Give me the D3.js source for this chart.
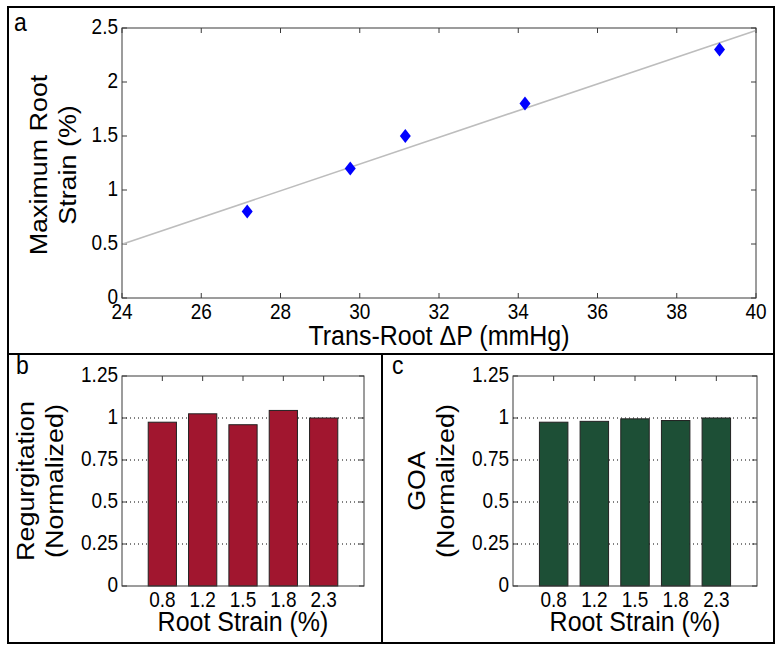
<!DOCTYPE html>
<html>
<head>
    <title>Root strain figure</title>
    <script src="https://d3js.org/d3.v7.min.js"></script>
    <style>
        body { margin: 0; background: #fff; }
        text { font-family: "Liberation Sans", Arial, sans-serif; fill: #000; }
    </style>
</head>
<body>
    <div id="fig"></div>
    <script>
        // panel a data
        var pressure = [27.16, 29.76, 31.15, 34.17, 39.08];
        var maxStrain = [0.8, 1.2, 1.5, 1.8, 2.3];
        var xTicksA = [24, 26, 28, 30, 32, 34, 36, 38, 40];
        var yTicksA = [0, 0.5, 1, 1.5, 2, 2.5];

        // panels b and c data
        var strainLabels = ["0.8", "1.2", "1.5", "1.8", "2.3"];
        var regurgitation = [0.975, 1.025, 0.96, 1.045, 1.0];
        var goa = [0.975, 0.98, 0.995, 0.985, 1.0];
        var yTicksBar = [0, 0.25, 0.5, 0.75, 1, 1.25];

        var width = 782, height = 651;
        var axisColor = "#3a3a3a";
        var tickLen = 5;
        var stretch = 1.12; // the source figure's text is a bit tall

        var svg = d3.select("#fig")
            .append("svg")
            .attr("width", width)
            .attr("height", height);

        // text helper: horizontal text stretched vertically, or rotated label
        function label(parent, x, y, s, size, anchor, rotated, dy) {
            var tf = "translate(" + x + "," + y + ")" +
                (rotated ? " rotate(-90) scale(" + stretch + ",1)" : " scale(1," + stretch + ")");
            return parent.append("text")
                .attr("transform", tf)
                .attr("text-anchor", anchor || "start")
                .attr("dy", dy || null)
                .style("font-size", size + "px")
                .text(s);
        }

        // outer frame and dividers
        svg.append("rect")
            .attr("x", 8).attr("y", 7)
            .attr("width", 766).attr("height", 636)
            .attr("fill", "none").attr("stroke", "#000").attr("stroke-width", 2);
        svg.append("line")
            .attr("x1", 8).attr("x2", 774).attr("y1", 354).attr("y2", 354)
            .attr("stroke", "#000").attr("stroke-width", 2);
        svg.append("line")
            .attr("x1", 382).attr("x2", 382).attr("y1", 354).attr("y2", 643)
            .attr("stroke", "#000").attr("stroke-width", 2);

        label(svg, 14, 31, "a", 23);
        label(svg, 16, 374, "b", 23);
        label(svg, 392, 374, "c", 23);

        function yLabel(lines, x0, yc) {
            lines.forEach(function(s, i) {
                label(svg, x0 + i * 29, yc, s, 24, "middle", true);
            });
        }

        // ---------- panel a ----------
        var ax = { left: 122, right: 756, top: 28, bottom: 298 };
        var xA = d3.scaleLinear().domain([24, 40]).range([ax.left, ax.right]);
        var yA = d3.scaleLinear().domain([0, 2.5]).range([ax.bottom, ax.top]);

        var gA = svg.append("g");

        // ticks (inside, mirrored)
        xTicksA.forEach(function(t) {
            gA.append("line").attr("x1", xA(t)).attr("x2", xA(t))
                .attr("y1", ax.bottom).attr("y2", ax.bottom - tickLen).attr("stroke", axisColor);
            gA.append("line").attr("x1", xA(t)).attr("x2", xA(t))
                .attr("y1", ax.top).attr("y2", ax.top + tickLen).attr("stroke", axisColor);
            label(gA, xA(t), ax.bottom + 21, t, 19, "middle");
        });
        yTicksA.forEach(function(t) {
            gA.append("line").attr("x1", ax.left).attr("x2", ax.left + tickLen)
                .attr("y1", yA(t)).attr("y2", yA(t)).attr("stroke", axisColor);
            gA.append("line").attr("x1", ax.right).attr("x2", ax.right - tickLen)
                .attr("y1", yA(t)).attr("y2", yA(t)).attr("stroke", axisColor);
            label(gA, ax.left - 4, yA(t) - 1, t, 19, "end", false, "0.35em");
        });

        // least squares fit line
        var mx = d3.mean(pressure), my = d3.mean(maxStrain);
        var sxy = d3.sum(pressure, function(x, i) { return (x - mx) * (maxStrain[i] - my); });
        var sxx = d3.sum(pressure, function(x) { return (x - mx) * (x - mx); });
        var slope = sxy / sxx, intercept = my - slope * mx;
        gA.append("line")
            .attr("x1", xA(24)).attr("y1", yA(slope * 24 + intercept))
            .attr("x2", xA(40)).attr("y2", yA(slope * 40 + intercept))
            .attr("stroke", "#bdbdbd").attr("stroke-width", 1.6);

        // diamond markers
        gA.selectAll(".pt")
            .data(pressure)
            .enter()
            .append("path")
            .attr("class", "pt")
            .attr("d", function(d, i) {
                var cx = xA(d), cy = yA(maxStrain[i]);
                return "M" + cx + "," + (cy - 7) + "L" + (cx + 5.5) + "," + cy +
                    "L" + cx + "," + (cy + 7) + "L" + (cx - 5.5) + "," + cy + "Z";
            })
            .attr("fill", "#0000ff");

        gA.append("rect")
            .attr("x", ax.left).attr("y", ax.top)
            .attr("width", ax.right - ax.left).attr("height", ax.bottom - ax.top)
            .attr("fill", "none").attr("stroke", axisColor).attr("stroke-width", 1);

        label(svg, (ax.left + ax.right) / 2, 345, "Trans-Root \u0394P (mmHg)", 25, "middle");
        yLabel(["Maximum Root", "Strain (%)"], 47, 165);

        // ---------- panels b and c ----------
        function barPanel(box, values, color, labelLines, labelX) {
            var x = d3.scaleLinear().domain([0, 6]).range([box.left, box.right]);
            var y = d3.scaleLinear().domain([0, 1.25]).range([box.bottom, box.top]);
            var bw = (x(1) - x(0)) * 0.7;
            var g = svg.append("g");

            // dotted grid
            yTicksBar.filter(function(t) { return t > 0 && t < 1.25; }).forEach(function(t) {
                g.append("line").attr("x1", box.left).attr("x2", box.right)
                    .attr("y1", y(t)).attr("y2", y(t))
                    .attr("stroke", "#000").attr("stroke-width", 1)
                    .attr("stroke-dasharray", "1,3");
            });

            g.selectAll(".bar")
                .data(values)
                .enter()
                .append("rect")
                .attr("class", "bar")
                .attr("x", function(d, i) { return x(i + 1) - bw / 2; })
                .attr("y", function(d) { return y(d); })
                .attr("width", bw)
                .attr("height", function(d) { return y(0) - y(d); })
                .attr("fill", color)
                .attr("stroke", "#222")
                .attr("stroke-width", 1);

            strainLabels.forEach(function(s, i) {
                g.append("line").attr("x1", x(i + 1)).attr("x2", x(i + 1))
                    .attr("y1", box.top).attr("y2", box.top + tickLen).attr("stroke", axisColor);
                label(g, x(i + 1), box.bottom + 21, s, 19, "middle");
            });
            yTicksBar.forEach(function(t) {
                g.append("line").attr("x1", box.left).attr("x2", box.left + tickLen)
                    .attr("y1", y(t)).attr("y2", y(t)).attr("stroke", axisColor);
                g.append("line").attr("x1", box.right).attr("x2", box.right - tickLen)
                    .attr("y1", y(t)).attr("y2", y(t)).attr("stroke", axisColor);
                label(g, box.left - 4, y(t) - 1, t, 19, "end", false, "0.35em");
            });

            g.append("rect")
                .attr("x", box.left).attr("y", box.top)
                .attr("width", box.right - box.left).attr("height", box.bottom - box.top)
                .attr("fill", "none").attr("stroke", axisColor).attr("stroke-width", 1);

            label(svg, x(3), 631, "Root Strain (%)", 25, "middle");
            yLabel(labelLines, labelX, (box.top + box.bottom) / 2);
        }

        barPanel({ left: 122, right: 364, top: 376, bottom: 586 },
            regurgitation, "#a1162f", ["Regurgitation", "(Normalized)"], 34);
        barPanel({ left: 513, right: 757, top: 376, bottom: 586 },
            goa, "#1d4f36", ["GOA", "(Normalized)"], 425);
    </script>
</body>
</html>
